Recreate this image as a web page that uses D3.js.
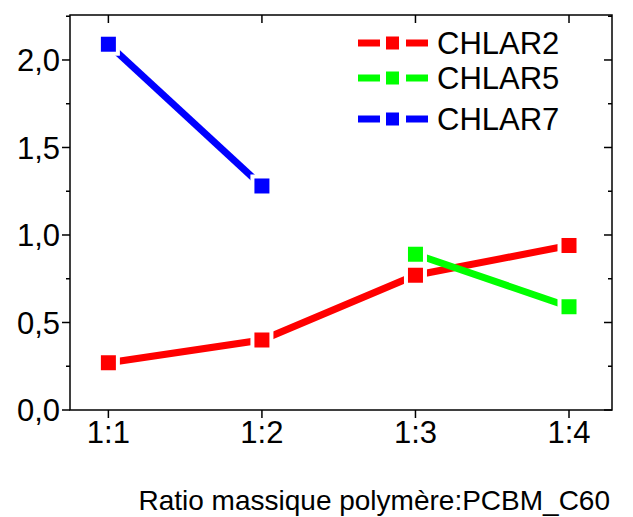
<!DOCTYPE html>
<meta charset="UTF-8">
<style>
body { margin: 0; background: #fff; }
text { font-family: "Liberation Sans", Arial, sans-serif; fill: #000; }
</style>
<body>
<div class="chart"></div>
<script src="https://d3js.org/d3.v7.min.js"></script>
<script>
var categories = ["1:1", "1:2", "1:3", "1:4"];
var chlar2 = [0.27, 0.40, 0.77, 0.94];
var chlar5 = [null, null, 0.89, 0.59];
var chlar7 = [2.09, 1.28, null, null];
var seriesNames = ["CHLAR2", "CHLAR5", "CHLAR7"];
var seriesColors = ["#ff0000", "#00ff00", "#0000ff"];
var yTicks = [0, 0.5, 1.0, 1.5, 2.0];

var width = 633, height = 517;
var mLeft = 70, mRight = 612, mTop = 15, mBottom = 410;

var svg = d3.select(".chart").append("svg")
  .attr("width", width).attr("height", height);

var x = d3.scaleLinear().domain([0.75, 4.28]).range([mLeft, mRight]);
var y = d3.scaleLinear().domain([0, 2.257]).range([mBottom, mTop]);
var fmt = function (d) { return d3.format(".1f")(d).replace(".", ","); };

// frame
svg.append("rect")
  .attr("x", mLeft).attr("y", mTop)
  .attr("width", mRight - mLeft).attr("height", mBottom - mTop)
  .attr("fill", "none").attr("stroke", "#000").attr("stroke-width", 1.5);

var minorY = d3.range(0.25, 2.26, 0.5);
var g = svg.append("g");

// y ticks: outside on left, inside on right
yTicks.forEach(function (t) {
  g.append("line").attr("x1", mLeft - 8).attr("x2", mLeft).attr("y1", y(t)).attr("y2", y(t))
    .attr("stroke", "#000").attr("stroke-width", 1.5);
  g.append("line").attr("x1", mRight - 8).attr("x2", mRight).attr("y1", y(t)).attr("y2", y(t))
    .attr("stroke", "#000").attr("stroke-width", 1.5);
  g.append("text").attr("x", mLeft - 10).attr("y", y(t)).attr("dy", "0.36em")
    .attr("text-anchor", "end").style("font-size", "31px").text(fmt(t));
});
minorY.forEach(function (t) {
  g.append("line").attr("x1", mLeft - 4).attr("x2", mLeft).attr("y1", y(t)).attr("y2", y(t))
    .attr("stroke", "#000").attr("stroke-width", 1.5);
  g.append("line").attr("x1", mRight - 4).attr("x2", mRight).attr("y1", y(t)).attr("y2", y(t))
    .attr("stroke", "#000").attr("stroke-width", 1.5);
});

// x ticks: outside on bottom, inside on top
categories.forEach(function (c, i) {
  var px = x(i + 1);
  g.append("line").attr("x1", px).attr("x2", px).attr("y1", mBottom).attr("y2", mBottom + 8)
    .attr("stroke", "#000").attr("stroke-width", 1.5);
  g.append("line").attr("x1", px).attr("x2", px).attr("y1", mTop).attr("y2", mTop + 8)
    .attr("stroke", "#000").attr("stroke-width", 1.5);
  g.append("text").attr("x", px).attr("y", 443)
    .attr("text-anchor", "middle").style("font-size", "31px").text(c);
});

// axis title
svg.append("text").attr("x", 610).attr("y", 510).attr("text-anchor", "end")
  .style("font-size", "28px").text("Ratio massique polymère:PCBM_C60");

// series
var allSeries = [chlar2, chlar5, chlar7];
var line = d3.line()
  .defined(function (d) { return d != null; })
  .x(function (d, i) { return x(i + 1); })
  .y(function (d) { return y(d); });

allSeries.forEach(function (s, k) {
  svg.append("path").datum(s).attr("d", line)
    .attr("fill", "none").attr("stroke", seriesColors[k]).attr("stroke-width", 7);
});
allSeries.forEach(function (s, k) {
  s.forEach(function (v, i) {
    if (v == null) return;
    svg.append("rect")
      .attr("x", x(i + 1) - 7.5).attr("y", y(v) - 7.5)
      .attr("width", 15).attr("height", 15)
      .attr("fill", seriesColors[k]).attr("stroke", "#fff").attr("stroke-width", 8)
      .attr("paint-order", "stroke");
  });
});

// legend
var legY = [43, 78, 119];
seriesNames.forEach(function (n, k) {
  var ly = legY[k];
  svg.append("line").attr("x1", 358).attr("x2", 380).attr("y1", ly).attr("y2", ly)
    .attr("stroke", seriesColors[k]).attr("stroke-width", 7);
  svg.append("line").attr("x1", 406).attr("x2", 428).attr("y1", ly).attr("y2", ly)
    .attr("stroke", seriesColors[k]).attr("stroke-width", 7);
  svg.append("rect").attr("x", 386).attr("y", ly - 6.5).attr("width", 13).attr("height", 13)
    .attr("fill", seriesColors[k]);
  svg.append("text").attr("x", 437).attr("y", ly).attr("dy", "0.36em")
    .style("font-size", "31px").text(n);
});
</script>
</body>
